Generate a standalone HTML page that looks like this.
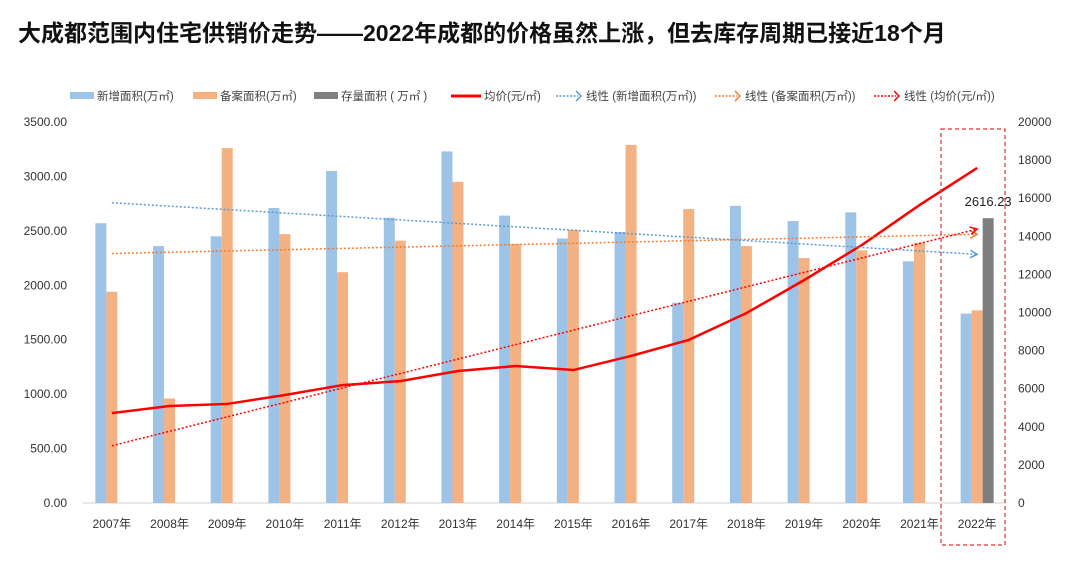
<!DOCTYPE html>
<html><head><meta charset="utf-8"><style>
body{margin:0;background:#fff;width:1080px;height:558px;overflow:hidden;font-family:"Liberation Sans","Noto Sans CJK SC",sans-serif}
</style></head><body>
<svg id="c" width="1080" height="558" xmlns="http://www.w3.org/2000/svg">
<text x="18" y="41" font-size="23" font-weight="bold" fill="#111" font-family="Liberation Sans, Noto Sans CJK SC, sans-serif">大成都范围内住宅供销价走势——2022年成都的价格虽然上涨，但去库存周期已接近18个月</text>
</svg>
<script>
const categories=["2007年","2008年","2009年","2010年","2011年","2012年","2013年","2014年","2015年","2016年","2017年","2018年","2019年","2020年","2021年","2022年"];
const newArea=[2570,2360,2450,2710,3050,2620,3230,2640,2430,2490,1840,2730,2590,2670,2220,1740];
const soldArea=[1940,960,3260,2470,2120,2410,2950,2380,2510,3290,2700,2360,2250,2320,2390,1770];
const stockArea=[null,null,null,null,null,null,null,null,null,null,null,null,null,null,null,2616.23];
const price=[4720,5090,5200,5670,6190,6400,6930,7190,6980,7720,8560,9970,11700,13540,15640,17590];
const leftTicks=["0.00","500.00","1000.00","1500.00","2000.00","2500.00","3000.00","3500.00"];
const rightTicks=["0","2000","4000","6000","8000","10000","12000","14000","16000","18000","20000"];

const svg=document.getElementById('c');const NS="http://www.w3.org/2000/svg";
const X0=83,X1=1006,Y0=503,Y1=122;
const step=(X1-X0)/categories.length;
const cx=i=>X0+step*(i+0.5);
const yL=v=>Y0-(v/3500)*(Y0-Y1);
const yR=v=>Y0-(v/20000)*(Y0-Y1);
function mk(t,a,p){const e=document.createElementNS(NS,t);for(const k in a)e.setAttribute(k,a[k]);(p||svg).appendChild(e);return e;}
const F="Liberation Sans, Noto Sans CJK SC, sans-serif";
leftTicks.forEach(t=>{const e=mk('text',{x:67,y:yL(+t)+4,'font-size':12,'text-anchor':'end',fill:'#333','font-family':F});e.textContent=t;

});
rightTicks.forEach(t=>{const e=mk('text',{x:1018,y:yR(+t)+4,'font-size':12,fill:'#333','font-family':F});e.textContent=t;

});
const ax=mk('line',{x1:X0,x2:X1,y1:Y0,y2:Y0,stroke:'#d0d0d0'});


categories.forEach((c,i)=>{const e=mk('text',{x:cx(i),y:528,'font-size':12,'text-anchor':'middle',fill:'#333','font-family':F});e.textContent=c;

});
const bw=11;
function bars(arr,off,col,name){arr.forEach((v,i)=>{if(v==null)return;const r=mk('rect',{x:cx(i)+off-bw/2,y:yL(v),width:bw,height:Y0-yL(v),fill:col});

});}
bars(newArea,-11,'#9dc3e6','bar-new-area');
bars(soldArea,0,'#f4b183','bar-sold-area');
bars(stockArea,11,'#7f7f7f','bar-stock-area');
stockArea.forEach((v,i)=>{if(v==null)return;const t=mk('text',{x:cx(i)+11,y:yL(v)-12,'font-size':13,'text-anchor':'middle',fill:'#222','font-family':F});t.textContent=v.toFixed(2);

});
const pl=mk('polyline',{points:price.map((v,i)=>cx(i)+','+yR(v)).join(' '),fill:'none',stroke:'#ff0000','stroke-width':2.5});


function reg(arr){const n=arr.length;let sx=0,sy=0,sxy=0,sxx=0;arr.forEach((v,i)=>{sx+=i;sy+=v;sxy+=i*v;sxx+=i*i;});const b=(n*sxy-sx*sy)/(n*sxx-sx*sx);return [ (sy-b*sx)/n ,b];}
function trend(arr,yf,col,name){const [a,b]=reg(arr);const n=arr.length;const x2=cx(n-1),y2=yf(a+b*(n-1));
const l=mk('line',{x1:cx(0),y1:yf(a),x2:x2,y2:y2,stroke:col,'stroke-width':1.5,'stroke-dasharray':'2,2'});


const ang=Math.atan2(y2-yf(a),x2-cx(0));const h=mk('polyline',{points:`${x2-8*Math.cos(ang-0.5)},${y2-8*Math.sin(ang-0.5)} ${x2},${y2} ${x2-8*Math.cos(ang+0.5)},${y2-8*Math.sin(ang+0.5)}`,fill:'none',stroke:col,'stroke-width':1.5});

}
trend(newArea,yL,'#5b9bd5','trend-new-area');
trend(soldArea,yL,'#ed7d31','trend-sold-area');
trend(price,yR,'#ff0000','trend-price');
const bx=mk('rect',{x:941,y:129,width:64,height:416,fill:'none',stroke:'#e03030','stroke-width':1.2,'stroke-dasharray':'4,3'});


const lg=[["rect","#9dc3e6","新增面积(万㎡)",70],["rect","#f4b183","备案面积(万㎡)",193],["rect","#7f7f7f","存量面积 ( 万㎡ )",314],["line","#ff0000","均价(元/㎡)",451],["dot","#5b9bd5","线性 (新增面积(万㎡))",556],["dot","#ed7d31","线性 (备案面积(万㎡))",715],["dot","#ff0000","线性 (均价(元/㎡))",874]];
lg.forEach(([k,c,t,x])=>{const g=mk('g',{});


let tx;
if(k=="rect"){mk('rect',{x:x,y:92,width:24,height:7,fill:c},g);tx=x+27;}
else if(k=="line"){mk('line',{x1:x,x2:x+30,y1:96,y2:96,stroke:c,'stroke-width':3},g);tx=x+33;}
else{mk('line',{x1:x,x2:x+22,y1:96,y2:96,stroke:c,'stroke-width':1.5,'stroke-dasharray':'2,1.5'},g);mk('polyline',{points:`${x+20},91 ${x+25},96 ${x+20},101`,fill:'none',stroke:c,'stroke-width':1.5},g);tx=x+30;}
const e=mk('text',{x:tx,y:100,'font-size':11.5,fill:'#444','font-family':F},g);e.textContent=t;});
</script>
</body></html>
